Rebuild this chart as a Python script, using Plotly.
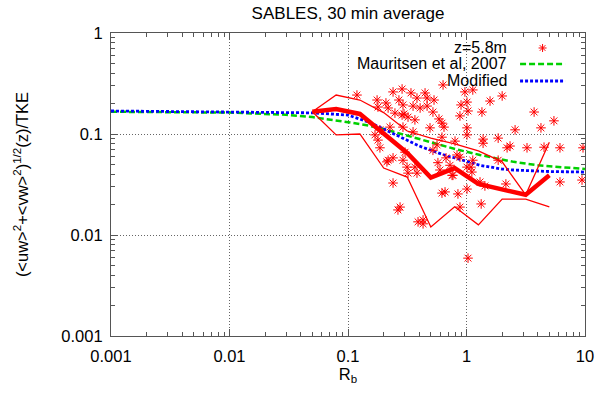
import plotly.graph_objects as go

# ---- data ----
rb_obs = [0.119, 0.176, 0.179, 0.209, 0.218, 0.240, 0.249, 0.269, 0.286, 0.291, 0.297, 0.321,
          0.340, 0.354, 0.382, 0.447, 0.465, 0.465, 0.521, 0.532, 0.586, 0.634, 0.492, 0.621,
          0.646, 0.406, 0.286, 0.367, 0.291, 0.354, 0.621, 0.186, 0.169, 0.226,
          0.881, 0.899, 0.970, 1.01, 1.03, 1.13, 1.01, 1.01, 1.35, 1.58, 2.00, 2.57, 2.20, 2.33,
          1.85, 1.38, 1.38, 3.24, 3.72, 4.25, 4.51, 5.47, 6.15, 9.62, 0.80, 0.832, 1.13, 1.09,
          1.85, 0.769,
          0.186, 0.179, 0.218, 0.240, 0.213, 0.315, 0.321, 0.367, 0.382, 0.291, 0.303, 0.521,
          0.564, 0.574, 0.597, 0.672, 0.726, 0.755, 0.881, 1.01, 1.11, 1.30, 1.43, 2.15, 0.240,
          0.621, 0.659, 0.847, 1.01, 1.33, 0.881, 0.275, 0.264, 0.390, 0.430, 0.430, 1.03,
          6.15, 9.44]
ratio_obs = [0.243, 0.217, 0.185, 0.203, 0.181, 0.261, 0.161, 0.217, 0.279, 0.194, 0.158, 0.147,
             0.255, 0.189, 0.227, 0.255, 0.227, 0.189, 0.165, 0.217, 0.141, 0.306, 0.115, 0.093,
             0.117, 0.181, 0.154, 0.138, 0.117, 0.105, 0.128, 0.110, 0.098, 0.117,
             0.151, 0.194, 0.261, 0.207, 0.169, 0.273, 0.115, 0.098, 0.165, 0.212, 0.238, 0.110,
             0.073, 0.076, 0.091, 0.089, 0.081, 0.073, 0.165, 0.115, 0.074, 0.135, 0.073, 0.073,
             0.085, 0.062, 0.055, 0.047, 0.055, 0.039,
             0.073, 0.087, 0.055, 0.058, 0.053, 0.047, 0.041, 0.047, 0.041, 0.055, 0.066, 0.069,
             0.078, 0.052, 0.044, 0.058, 0.049, 0.039, 0.059, 0.047, 0.042, 0.0335, 0.0306, 0.032,
             0.0327, 0.026, 0.0267, 0.0255, 0.0285, 0.0203, 0.0189, 0.0189, 0.0177, 0.0135,
             0.0141, 0.0129, 0.0059, 0.0335, 0.035]

rb_bins = [0.05, 0.0794, 0.126, 0.2, 0.316, 0.5, 0.794, 1.26, 2.0, 3.16, 5.0]
bin_median = [0.166, 0.177, 0.158, 0.100, 0.065, 0.037, 0.046, 0.032, 0.028, 0.025, 0.039]
bin_upper = [0.166, 0.243, 0.217, 0.163, 0.107, 0.091, 0.080, 0.068, 0.053, 0.025, 0.083]
bin_lower = [0.166, 0.098, 0.100, 0.046, 0.0375, 0.012, 0.019, 0.0126, 0.0227, 0.0227, 0.019]

rb_model = [0.001, 0.003, 0.01, 0.03, 0.05, 0.1, 0.15, 0.2, 0.3, 0.4, 0.5, 0.7, 0.8, 1.3,
            2.0, 2.5, 4.0, 5.0, 10.0]
mauritsen = [0.166, 0.165, 0.163, 0.155, 0.147, 0.131, 0.121, 0.112, 0.098, 0.089, 0.083,
             0.074, 0.071, 0.062, 0.056, 0.053, 0.049, 0.048, 0.045]
modified = [0.169, 0.167, 0.165, 0.163, 0.162, 0.154, 0.131, 0.112, 0.089, 0.076, 0.069,
            0.060, 0.058, 0.049, 0.045, 0.044, 0.043, 0.0425, 0.042]

x_ticks = [0.001, 0.01, 0.1, 1, 10]
x_ticktext = ["0.001", "0.01", "0.1", "1", "10"]
y_ticks = [0.001, 0.01, 0.1, 1]
y_ticktext = ["0.001", "0.01", "0.1", "1"]
x_minor = [d * m for d in x_ticks[:-1] for m in range(2, 10)]
y_minor = [d * m for d in y_ticks[:-1] for m in range(2, 10)]

FONT = "Liberation Sans, Arial, Helvetica, sans-serif"
RED = "#ff0000"
GREEN = "#00d000"
BLUE = "#0000ff"
FS = 16.5

fig = go.Figure()
fig.add_trace(go.Scatter(x=rb_model, y=mauritsen, mode="lines",
                         line=dict(color=GREEN, width=2.5, dash="6px,3px"), showlegend=False))
fig.add_trace(go.Scatter(x=rb_model, y=modified, mode="lines",
                         line=dict(color=BLUE, width=2.8, dash="3px,2px"), showlegend=False))
fig.add_trace(go.Scatter(x=rb_obs, y=ratio_obs, mode="markers",
                         marker=dict(symbol="asterisk-open", size=8, color=RED,
                                     line=dict(color=RED, width=1)), showlegend=False))
fig.add_trace(go.Scatter(x=rb_bins, y=bin_upper, mode="lines",
                         line=dict(color=RED, width=1.3), showlegend=False))
fig.add_trace(go.Scatter(x=rb_bins, y=bin_lower, mode="lines",
                         line=dict(color=RED, width=1.3), showlegend=False))
fig.add_trace(go.Scatter(x=rb_bins, y=bin_median, mode="lines",
                         line=dict(color=RED, width=4.5), showlegend=False))

axis_common = dict(type="log", tickmode="array",
                   showline=True, linecolor="#555555", linewidth=1.2,
                   mirror="ticks", ticks="inside", ticklen=7, tickcolor="#555555",
                   showgrid=True, gridcolor="#666666", gridwidth=1, griddash="1px,2px",
                   zeroline=False, tickfont=dict(size=FS, color="black", family=FONT))

fig.update_xaxes(range=[-3, 1], **axis_common, tickvals=x_ticks, ticktext=x_ticktext,
                 ticklabelstandoff=5,
                 minor=dict(ticks="inside", ticklen=3.5, tickcolor="#555555",
                            tickmode="array", tickvals=x_minor, showgrid=False),
                 title=dict(text="R<sub>b</sub>", font=dict(size=FS, family=FONT, color="black"),
                            standoff=2))
fig.update_yaxes(range=[-3, 0], **axis_common, tickvals=y_ticks, ticktext=y_ticktext,
                 ticklabelstandoff=4,
                 minor=dict(ticks="inside", ticklen=3.5, tickcolor="#555555",
                            tickmode="array", tickvals=y_minor, showgrid=False),
                 title=dict(text="(&lt;uw&gt;<sup>2</sup>+&lt;vw&gt;<sup>2</sup>)<sup>1/2</sup>(z)/TKE",
                            font=dict(size=FS, family=FONT, color="black"), standoff=28))

# gnuplot-style key (text right-aligned, sample on right)
key_rows = [("z=5.8m", 0.9505), ("Mauritsen et al, 2007", 0.8977), ("Modified", 0.8416)]
annotations = []
for txt, yy in key_rows:
    annotations.append(dict(text=txt, x=0.8376, y=yy, xref="paper", yref="paper",
                            xanchor="right", yanchor="middle", showarrow=False,
                            borderpad=0, font=dict(size=16, family=FONT, color="black")))
shapes = [
    dict(type="line", xref="paper", yref="paper", x0=0.863, x1=0.958, y0=0.8977, y1=0.8977,
         line=dict(color=GREEN, width=2.5, dash="6px,3px")),
    dict(type="line", xref="paper", yref="paper", x0=0.863, x1=0.958, y0=0.8416, y1=0.8416,
         line=dict(color=BLUE, width=2.8, dash="3px,2px")),
]
cx, cy, dx, dy = 0.9105, 0.9505, 4.0 / 474, 4.0 / 303
path = (f"M {cx-dx} {cy} L {cx+dx} {cy} M {cx} {cy-dy} L {cx} {cy+dy} "
        f"M {cx-dx*0.7} {cy-dy*0.7} L {cx+dx*0.7} {cy+dy*0.7} "
        f"M {cx-dx*0.7} {cy+dy*0.7} L {cx+dx*0.7} {cy-dy*0.7}")
shapes.append(dict(type="path", xref="paper", yref="paper", path=path,
                   line=dict(color=RED, width=1)))

fig.update_layout(
    width=597, height=395,
    margin=dict(l=111, r=12, t=33, b=59, autoexpand=False),
    paper_bgcolor="white", plot_bgcolor="white",
    font=dict(family=FONT, color="black"),
    title=dict(text="SABLES, 30 min average", x=(111 + 474 / 2) / 597, xanchor="center",
               y=1 - 13 / 395, yanchor="middle", font=dict(size=17, family=FONT, color="black")),
    annotations=annotations, shapes=shapes, showlegend=False,
)

fig.write_html("out.html")
